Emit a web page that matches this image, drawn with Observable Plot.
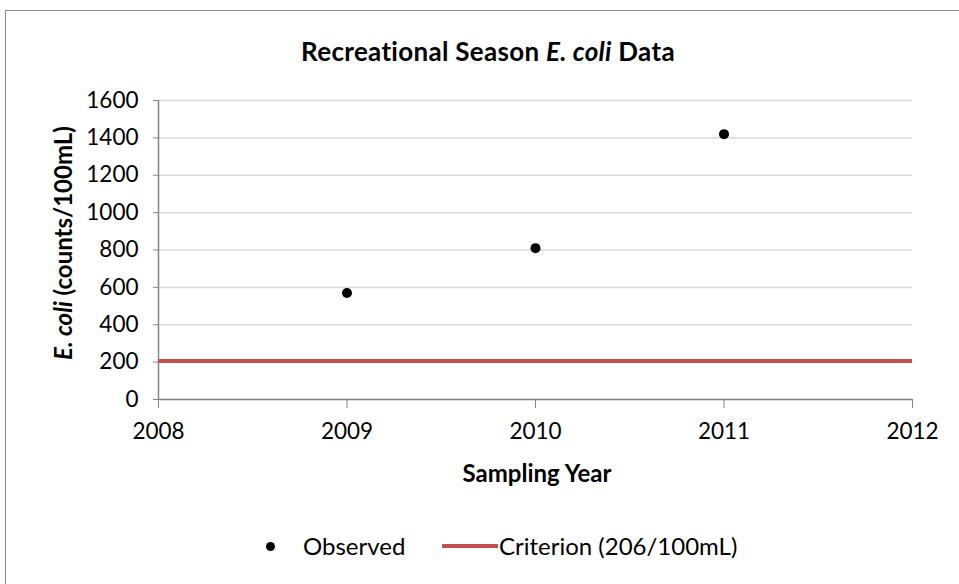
<!DOCTYPE html>
<html>
<head>
<meta charset="utf-8">
<script src="https://cdn.jsdelivr.net/npm/d3@7"></script>
<script src="https://cdn.jsdelivr.net/npm/@observablehq/plot@0.6"></script>
<style>
  html, body { margin: 0; padding: 0; background: #fff; width: 959px; height: 584px; overflow: hidden; font-family: Lato, "Open Sans", sans-serif; }
  #frame { position: absolute; left: 5px; top: 10px; width: 980px; height: 600px; border: 1.5px solid #8a8a8a; box-sizing: border-box; }
  #title { position: absolute; left: 0; top: 35px; width: 976px; text-align: center; font-size: 26px; letter-spacing: 0.3px; font-weight: bold; color: #000; }
  #chart { position: absolute; left: 0; top: 80px; }
  #legend { position: absolute; left: 0; top: 529px; width: 959px; height: 36px; font-size: 24px; color: #000; }
  .lg { position: absolute; top: 2px; white-space: nowrap; }
  .dotsw { position: absolute; top: 13px; width: 9px; height: 9px; border-radius: 50%; background: #000; }
  .linesw { position: absolute; top: 15px; width: 56px; height: 4px; background: #C0504D; }
</style>
</head>
<body>
<div id="frame"></div>
<div id="title">Recreational Season <i>E. coli</i> Data</div>
<div id="chart"></div>
<div id="legend">
  <span class="dotsw" style="left:266px"></span>
  <span class="lg" style="left:303px">Observed</span>
  <span class="linesw" style="left:442px"></span>
  <span class="lg" style="left:499px">Criterion (206/100mL)</span>
</div>
<script>
const years = [2009, 2010, 2011];
const observed = [570, 810, 1420];
const criterion = 206;
const xTicks = [2008, 2009, 2010, 2011, 2012];
const yTicks = [0, 200, 400, 600, 800, 1000, 1200, 1400, 1600];

const data = years.map((y, i) => ({year: y, value: observed[i]}));

const chart = Plot.plot({
  width: 959,
  height: 410,
  marginLeft: 158,
  marginRight: 47,
  marginTop: 20,
  marginBottom: 91,
  style: {fontFamily: "Lato, 'Open Sans', sans-serif", fontSize: "22.5px", color: "#000", background: "transparent", overflow: "visible"},
  x: {domain: [2008, 2012], label: null},
  y: {domain: [0, 1600], label: null},
  marks: [
    Plot.gridY(yTicks, {stroke: "#d9d9d9", strokeOpacity: 1, strokeWidth: 1.5}),
    Plot.axisY(yTicks, {tickSize: 5, tickPadding: 15, stroke: "#868686", fill: "#000", label: null, tickFormat: d => String(d)}),
    Plot.axisX(xTicks, {tickSize: 9, tickPadding: 15, stroke: "#868686", fill: "#000", label: null, tickFormat: d => String(d)}),
    Plot.ruleY([0], {stroke: "#868686", strokeWidth: 1.5}),
    Plot.ruleX([2008], {stroke: "#868686", strokeWidth: 1.5}),
    Plot.ruleY([criterion], {x1: 2008, x2: 2012, stroke: "#C0504D", strokeWidth: 4}),
    Plot.dot(data, {x: "year", y: "value", r: 5, fill: "#000", stroke: null})
  ]
});

document.getElementById("chart").appendChild(chart);

const svg = d3.select(chart);
svg.append("text")
  .attr("x", 537).attr("y", 402)
  .attr("text-anchor", "middle")
  .attr("font-weight", "bold")
  .attr("font-size", 24)
  .attr("fill", "#000")
  .text("Sampling Year");

const yl = svg.append("text")
  .attr("transform", "translate(72,163) rotate(-90)")
  .attr("text-anchor", "middle")
  .attr("font-weight", "bold")
  .attr("font-size", 24)
  .attr("fill", "#000");
yl.append("tspan").attr("font-style", "italic").text("E. coli");
yl.append("tspan").text(" (counts/100mL)");
</script>
</body>
</html>
